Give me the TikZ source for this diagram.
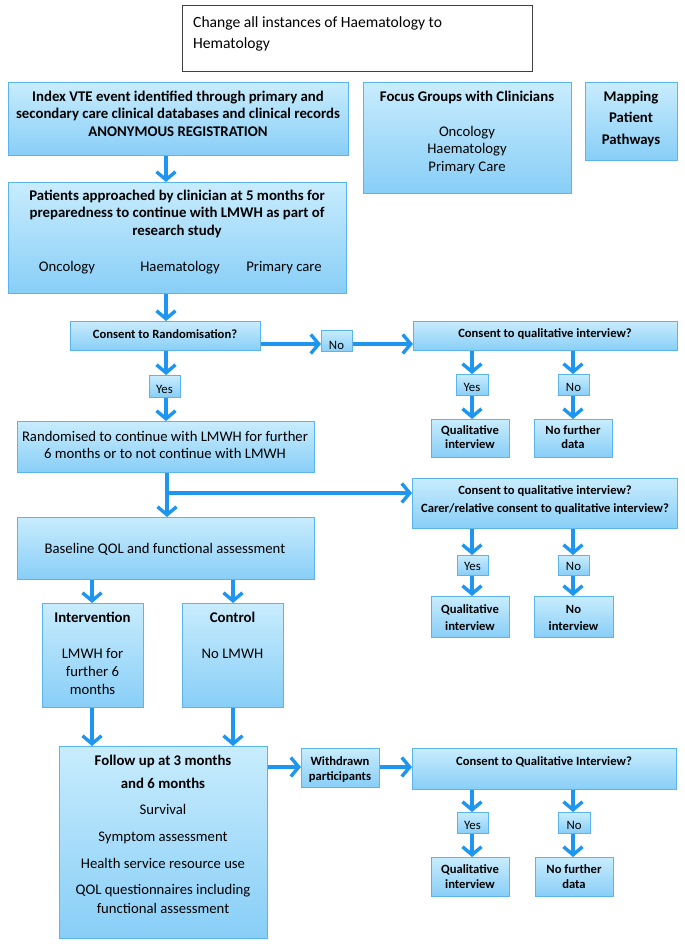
\documentclass[tikz,border=0pt]{standalone}
\usepackage{fontspec}
\setmainfont{Carlito}
\usetikzlibrary{arrows.meta}
\definecolor{arr}{RGB}{30,150,240}
\definecolor{bord}{RGB}{90,180,238}
\definecolor{ftop}{RGB}{200,236,253}
\definecolor{fbot}{RGB}{136,206,247}
\tikzset{
  bx/.style={draw=bord, line width=1pt, top color=ftop, bottom color=fbot, inner sep=0pt},
  notebox/.style={draw=black!75, line width=1.2pt, fill=white, inner sep=0pt},
  arw/.style={draw=arr, line width=3.6pt, -{Straight Barb[length=8pt,width=19pt,line width=3.4pt]}},
  nR/.style={font=\fontsize{15.6}{18}\selectfont},
  fR/.style={font=\fontsize{14.7}{17}\selectfont},
  fB/.style={font=\fontsize{14.8}{17}\selectfont\bfseries},
  sR/.style={font=\fontsize{12.8}{15}\selectfont},
  sB/.style={font=\fontsize{12.6}{14}\selectfont\bfseries},
}
\newcounter{txc}
\newcommand\mkbox[6][bx]{\node[#1, anchor=north west, minimum width={#5pt-#3pt}, minimum height={#6pt-#4pt}] (#2) at (#3,#4) {};}
\newcommand\mytx[4]{\stepcounter{txc}\node[anchor=base, inner sep=0pt, #3] (t\arabic{txc}) at (#1,#2) {#4};}
\begin{document}
\begin{tikzpicture}[x=1pt,y=-1pt]
\useasboundingbox (0,0) rectangle (685,948);
% boxes
\mkbox[notebox]{note}{182}{5}{532}{71}
\mkbox{A}{8}{82}{348}{155}
\mkbox{focus}{363}{82}{571}{193}
\mkbox{map}{585}{82}{677}{160}
\mkbox{B}{8}{182}{346}{293}
\mkbox{CR}{70}{321}{260}{350}
\mkbox{No1}{321}{330}{352}{351}
\mkbox{CQ1}{413}{321}{677}{350}
\mkbox{Y1}{149}{375}{180}{397}
\mkbox{Y2}{456}{374}{488}{395}
\mkbox{N2}{558}{374}{589}{395}
\mkbox{QI1}{431}{419}{509}{457}
\mkbox{NF1}{534}{419}{612}{457}
\mkbox{R}{17}{421}{314}{472}
\mkbox{CQ2}{412}{478}{677}{528}
\mkbox{BL}{17}{517}{314}{579}
\mkbox{Y3}{457}{555}{488}{575}
\mkbox{N3}{558}{555}{589}{575}
\mkbox{QI2}{431}{596}{509}{637}
\mkbox{NI}{534}{596}{613}{637}
\mkbox{INT}{42}{603}{143}{707}
\mkbox{CTL}{182}{603}{283}{707}
\mkbox{FU}{59}{746}{267}{938}
\mkbox{WD}{301}{748}{379}{787}
\mkbox{CQ3}{412}{748}{676}{789}
\mkbox{Y4}{457}{812}{488}{833}
\mkbox{N4}{558}{812}{590}{833}
\mkbox{QI3}{431}{857}{509}{896}
\mkbox{NF3}{535}{857}{613}{896}
% texts
\mytx{193}{27}{nR, anchor=base west}{Change all instances of Haematology to}
\mytx{193}{48}{nR, anchor=base west}{Hematology}
\mytx{178}{101.5}{fB}{Index VTE event identified through primary and}
\mytx{178}{118.5}{fB}{secondary care clinical databases and clinical records}
\mytx{178}{136.5}{fB}{ANONYMOUS REGISTRATION}
\mytx{467}{101.5}{fB}{Focus Groups with Clinicians}
\mytx{467}{136.5}{fR}{Oncology}
\mytx{467}{153.5}{fR}{Haematology}
\mytx{467}{171.5}{fR}{Primary Care}
\mytx{631}{101.5}{fB}{Mapping}
\mytx{631}{122.5}{fB}{Patient}
\mytx{631}{144.5}{fB}{Pathways}
\mytx{177}{200.5}{fB}{Patients approached by clinician at 5 months for}
\mytx{177}{217.5}{fB}{preparedness to continue with LMWH as part of}
\mytx{177}{235.5}{fB}{research study}
\mytx{67}{271.5}{fR}{Oncology}
\mytx{180}{271.5}{fR}{Haematology}
\mytx{284}{271.5}{fR}{Primary care}
\mytx{165}{338.5}{sB}{Consent to Randomisation?}
\mytx{336.5}{349}{sR}{No}
\mytx{545}{337.5}{sB}{Consent to qualitative interview?}
\mytx{164.5}{393}{sR}{Yes}
\mytx{472}{391}{sR}{Yes}
\mytx{573.5}{391}{sR}{No}
\mytx{470}{434}{sB}{Qualitative}
\mytx{470}{448}{sB}{interview}
\mytx{573}{434}{sB}{No further}
\mytx{573}{448}{sB}{data}
\mytx{165}{441}{fR}{Randomised to continue with LMWH for further}
\mytx{165}{458}{fR}{6 months or to not continue with LMWH}
\mytx{545}{494}{sB}{Consent to qualitative interview?}
\mytx{545}{512}{sB}{Carer/relative consent to qualitative interview?}
\mytx{165}{553}{fR}{Baseline QOL and functional assessment}
\mytx{472.5}{570}{sR}{Yes}
\mytx{573.5}{570}{sR}{No}
\mytx{470}{613}{sB}{Qualitative}
\mytx{470}{630}{sB}{interview}
\mytx{573.5}{613}{sB}{No}
\mytx{573.5}{630}{sB}{interview}
\mytx{92.5}{622}{fB}{Intervention}
\mytx{92.5}{658}{fR}{LMWH for}
\mytx{92.5}{676}{fR}{further 6}
\mytx{92.5}{694}{fR}{months}
\mytx{232.5}{622}{fB}{Control}
\mytx{232.5}{658}{fR}{No LMWH}
\mytx{163}{765}{fB}{Follow up at 3 months}
\mytx{163}{788}{fB}{and 6 months}
\mytx{163}{814}{fR}{Survival}
\mytx{163}{841}{fR}{Symptom assessment}
\mytx{163}{868}{fR}{Health service resource use}
\mytx{163}{894}{fR}{QOL questionnaires including}
\mytx{163}{913}{fR}{functional assessment}
\mytx{340}{765}{sB}{Withdrawn}
\mytx{340}{780}{sB}{participants}
\mytx{544}{765}{sB}{Consent to Qualitative Interview?}
\mytx{472.5}{829}{sR}{Yes}
\mytx{574}{829}{sR}{No}
\mytx{470}{873}{sB}{Qualitative}
\mytx{470}{888}{sB}{interview}
\mytx{574}{873}{sB}{No further}
\mytx{574}{888}{sB}{data}
% guide coordinates
\coordinate (x166) at (166,0);
\coordinate (x167) at (167,0);
\coordinate (x472) at (472,0);
\coordinate (x573) at (573,0);
\coordinate (x92) at (92,0);
\coordinate (x233) at (233,0);
\coordinate (y344) at (0,344);
\coordinate (y767) at (0,767);
\coordinate (br) at (167,493);
% arrows
\draw[arw] (A.south -| x166) -- (B.north -| x166);
\draw[arw] (B.south -| x166) -- (CR.north -| x166);
\draw[arw] (CR.east |- y344) -- (No1.west |- y344);
\draw[arw] (No1.east |- y344) -- (CQ1.west |- y344);
\draw[arw] (CR.south -| x166) -- (Y1.north -| x166);
\draw[arw] (Y1.south -| x166) -- (R.north -| x166);
\draw[arw] (CQ1.south -| x472) -- (Y2.north -| x472);
\draw[arw] (Y2.south -| x472) -- (QI1.north -| x472);
\draw[arw] (CQ1.south -| x573) -- (N2.north -| x573);
\draw[arw] (N2.south -| x573) -- (NF1.north -| x573);
\draw[arw] (R.south -| x167) -- (BL.north -| x167);
\draw[arw] (br) -- (CQ2.west |- br);
\draw[arw] (CQ2.south -| x472) -- (Y3.north -| x472);
\draw[arw] (Y3.south -| x472) -- (QI2.north -| x472);
\draw[arw] (CQ2.south -| x573) -- (N3.north -| x573);
\draw[arw] (N3.south -| x573) -- (NI.north -| x573);
\draw[arw] (BL.south -| x92) -- (INT.north -| x92);
\draw[arw] (BL.south -| x233) -- (CTL.north -| x233);
\draw[arw] (INT.south -| x92) -- (FU.north -| x92);
\draw[arw] (CTL.south -| x233) -- (FU.north -| x233);
\draw[arw] (FU.east |- y767) -- (WD.west |- y767);
\draw[arw] (WD.east |- y767) -- (CQ3.west |- y767);
\draw[arw] (CQ3.south -| x472) -- (Y4.north -| x472);
\draw[arw] (Y4.south -| x472) -- (QI3.north -| x472);
\draw[arw] (CQ3.south -| x573) -- (N4.north -| x573);
\draw[arw] (N4.south -| x573) -- (NF3.north -| x573);
\end{tikzpicture}
\end{document}
